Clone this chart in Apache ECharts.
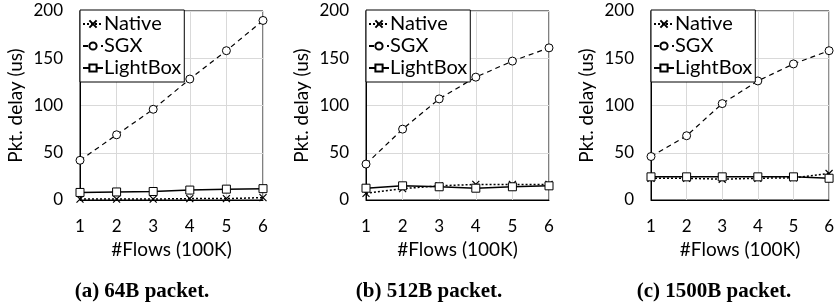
<!DOCTYPE html>
<html>
<head>
<meta charset="utf-8">
<script src="https://cdn.jsdelivr.net/npm/echarts@6/dist/echarts.min.js"></script>
<style>
  html, body { margin: 0; padding: 0; background: #fff; }
  #chart { width: 837px; height: 305px; }
</style>
</head>
<body>
<div id="chart"></div>
<script>
// x categories (100K flows)
var flows = ['1', '2', '3', '4', '5', '6'];
var yTicks = [0, 50, 100, 150, 200];

// (a) 64B packet
var native64 = [1, 1, 1, 1.5, 1.5, 2.5];
var sgx64 = [42, 69, 96, 128, 158, 190];
var lightbox64 = [8, 8.5, 9, 10.5, 11.5, 12];
// (b) 512B packet
var native512 = [7, 12, 15, 16.5, 16.5, 16.5];
var sgx512 = [38, 75, 107, 130, 147, 161];
var lightbox512 = [12.5, 15, 14, 12.5, 14, 15];
// (c) 1500B packet
var native1500 = [23, 23, 22, 23, 23.5, 28];
var sgx1500 = [46, 68, 102, 126, 144, 158];
var lightbox1500 = [24.5, 24.5, 24.5, 24.5, 24.5, 23];

var captions = ['(a) 64B packet.', '(b) 512B packet.', '(c) 1500B packet.'];
var seriesNames = ['Native', 'SGX', 'LightBox'];

var myChart = echarts.init(document.getElementById('chart'));
var font = 'Lato';
var crossPath = 'path://M0,0L10,10M10,0L0,10';

var panels = [
    {left: 80, right: 574, cap: 137, data: [native64, sgx64, lightbox64]},
    {left: 366, right: 288, cap: 424, data: [native512, sgx512, lightbox512]},
    {left: 651, right: 3, cap: 709, data: [native1500, sgx1500, lightbox1500]}
];

var grids = [], xAxes = [], yAxes = [], series = [], legends = [], titles = [];

for (var i = 0; i < panels.length; i++) {
    var p = panels[i];
    grids.push({
        left: p.left, right: p.right, top: 11, bottom: 105,
        show: true, borderColor: '#000', borderWidth: 1, backgroundColor: 'transparent'
    });
    xAxes.push({
        type: 'category', gridIndex: i, data: flows, boundaryGap: false,
        name: '#Flows (100K)', nameLocation: 'middle', nameGap: 38,
        nameTextStyle: {fontFamily: font, fontSize: 19, color: '#000'},
        axisLine: {lineStyle: {color: '#000', width: 1}},
        axisTick: {show: false},
        axisLabel: {fontFamily: font, fontSize: 17, color: '#000', margin: 18},
        splitLine: {show: true, lineStyle: {color: '#d9d9d9', width: 1}}
    });
    yAxes.push({
        type: 'value', gridIndex: i, min: yTicks[0], max: yTicks[yTicks.length - 1], interval: 50,
        name: 'Pkt. delay (us)', nameLocation: 'middle', nameGap: 55,
        nameTextStyle: {fontFamily: font, fontSize: 19, color: '#000'},
        axisLine: {show: true, lineStyle: {color: '#000', width: 1}},
        axisTick: {show: false},
        axisLabel: {fontFamily: font, fontSize: 17, color: '#000', margin: 17},
        splitLine: {show: true, lineStyle: {color: '#d9d9d9', width: 1}}
    });
    series.push({
        name: 'Native', type: 'line', xAxisIndex: i, yAxisIndex: i,
        data: p.data[0], symbol: crossPath, symbolSize: 7,
        itemStyle: {color: '#fff', borderColor: '#000', borderWidth: 1.2},
        lineStyle: {color: '#000', width: 1.5, type: [2, 2]}
    });
    series.push({
        name: 'SGX', type: 'line', xAxisIndex: i, yAxisIndex: i,
        data: p.data[1], symbol: 'circle', symbolSize: 8,
        itemStyle: {color: '#fff', borderColor: '#000', borderWidth: 1},
        lineStyle: {color: '#000', width: 1.2, type: [5, 4]}
    });
    series.push({
        name: 'LightBox', type: 'line', xAxisIndex: i, yAxisIndex: i,
        data: p.data[2], symbol: 'rect', symbolSize: 8,
        itemStyle: {color: '#fff', borderColor: '#000', borderWidth: 1},
        lineStyle: {color: '#000', width: 1.5, type: 'solid'}
    });
    legends.push({
        data: seriesNames, orient: 'vertical', left: p.left, top: 10,
        backgroundColor: '#fff', borderColor: '#000', borderWidth: 1,
        padding: [3, 3, 3, 2], itemGap: 0, itemWidth: 20, itemHeight: 9,
        textStyle: {fontFamily: font, fontSize: 20, color: '#000', lineHeight: 22, padding: [0, 0, 0, -4]},
        selectedMode: false
    });
    titles.push({
        text: captions[i], left: p.cap, top: 276, textAlign: 'center',
        textStyle: {fontFamily: 'Liberation Serif', fontWeight: 'bold', fontSize: 21, color: '#000'}
    });
}

myChart.setOption({
    animation: false,
    backgroundColor: '#fff',
    title: titles,
    legend: legends,
    grid: grids,
    xAxis: xAxes,
    yAxis: yAxes,
    series: series
});
</script>
</body>
</html>
